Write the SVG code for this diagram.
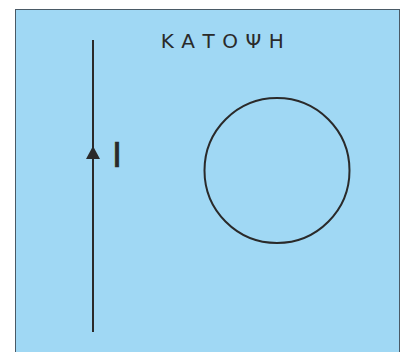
<svg xmlns="http://www.w3.org/2000/svg" width="400" height="352" viewBox="0 0 400 352">
<style>
.ink{stroke:#2a2a2a;stroke-width:2;fill:none}
.t{font-family:"DejaVu Sans","Liberation Sans",sans-serif;fill:#2a2a2a}
</style>
<rect x="15.5" y="9.5" width="384" height="344" fill="#a0d8f4" stroke="#4a5a66" stroke-width="1"/>
<text class="t" x="226" y="48" font-size="20" text-anchor="middle" letter-spacing="7.5">ΚΑΤΟΨΗ</text>
<g id="connectors">
<line class="ink" x1="93" y1="40" x2="93" y2="332"/>
<polygon points="93,146 86,159 100,159" fill="#2a2a2a"/>
</g>
<g id="current">
<text class="t" x="117" y="167" font-size="34" text-anchor="middle" font-family="Liberation Sans, sans-serif" stroke="#2a2a2a" stroke-width="0.7">I</text>
</g>
<g id="loop">
<circle class="ink" cx="277" cy="170.5" r="72.5"/>
</g>
</svg>
